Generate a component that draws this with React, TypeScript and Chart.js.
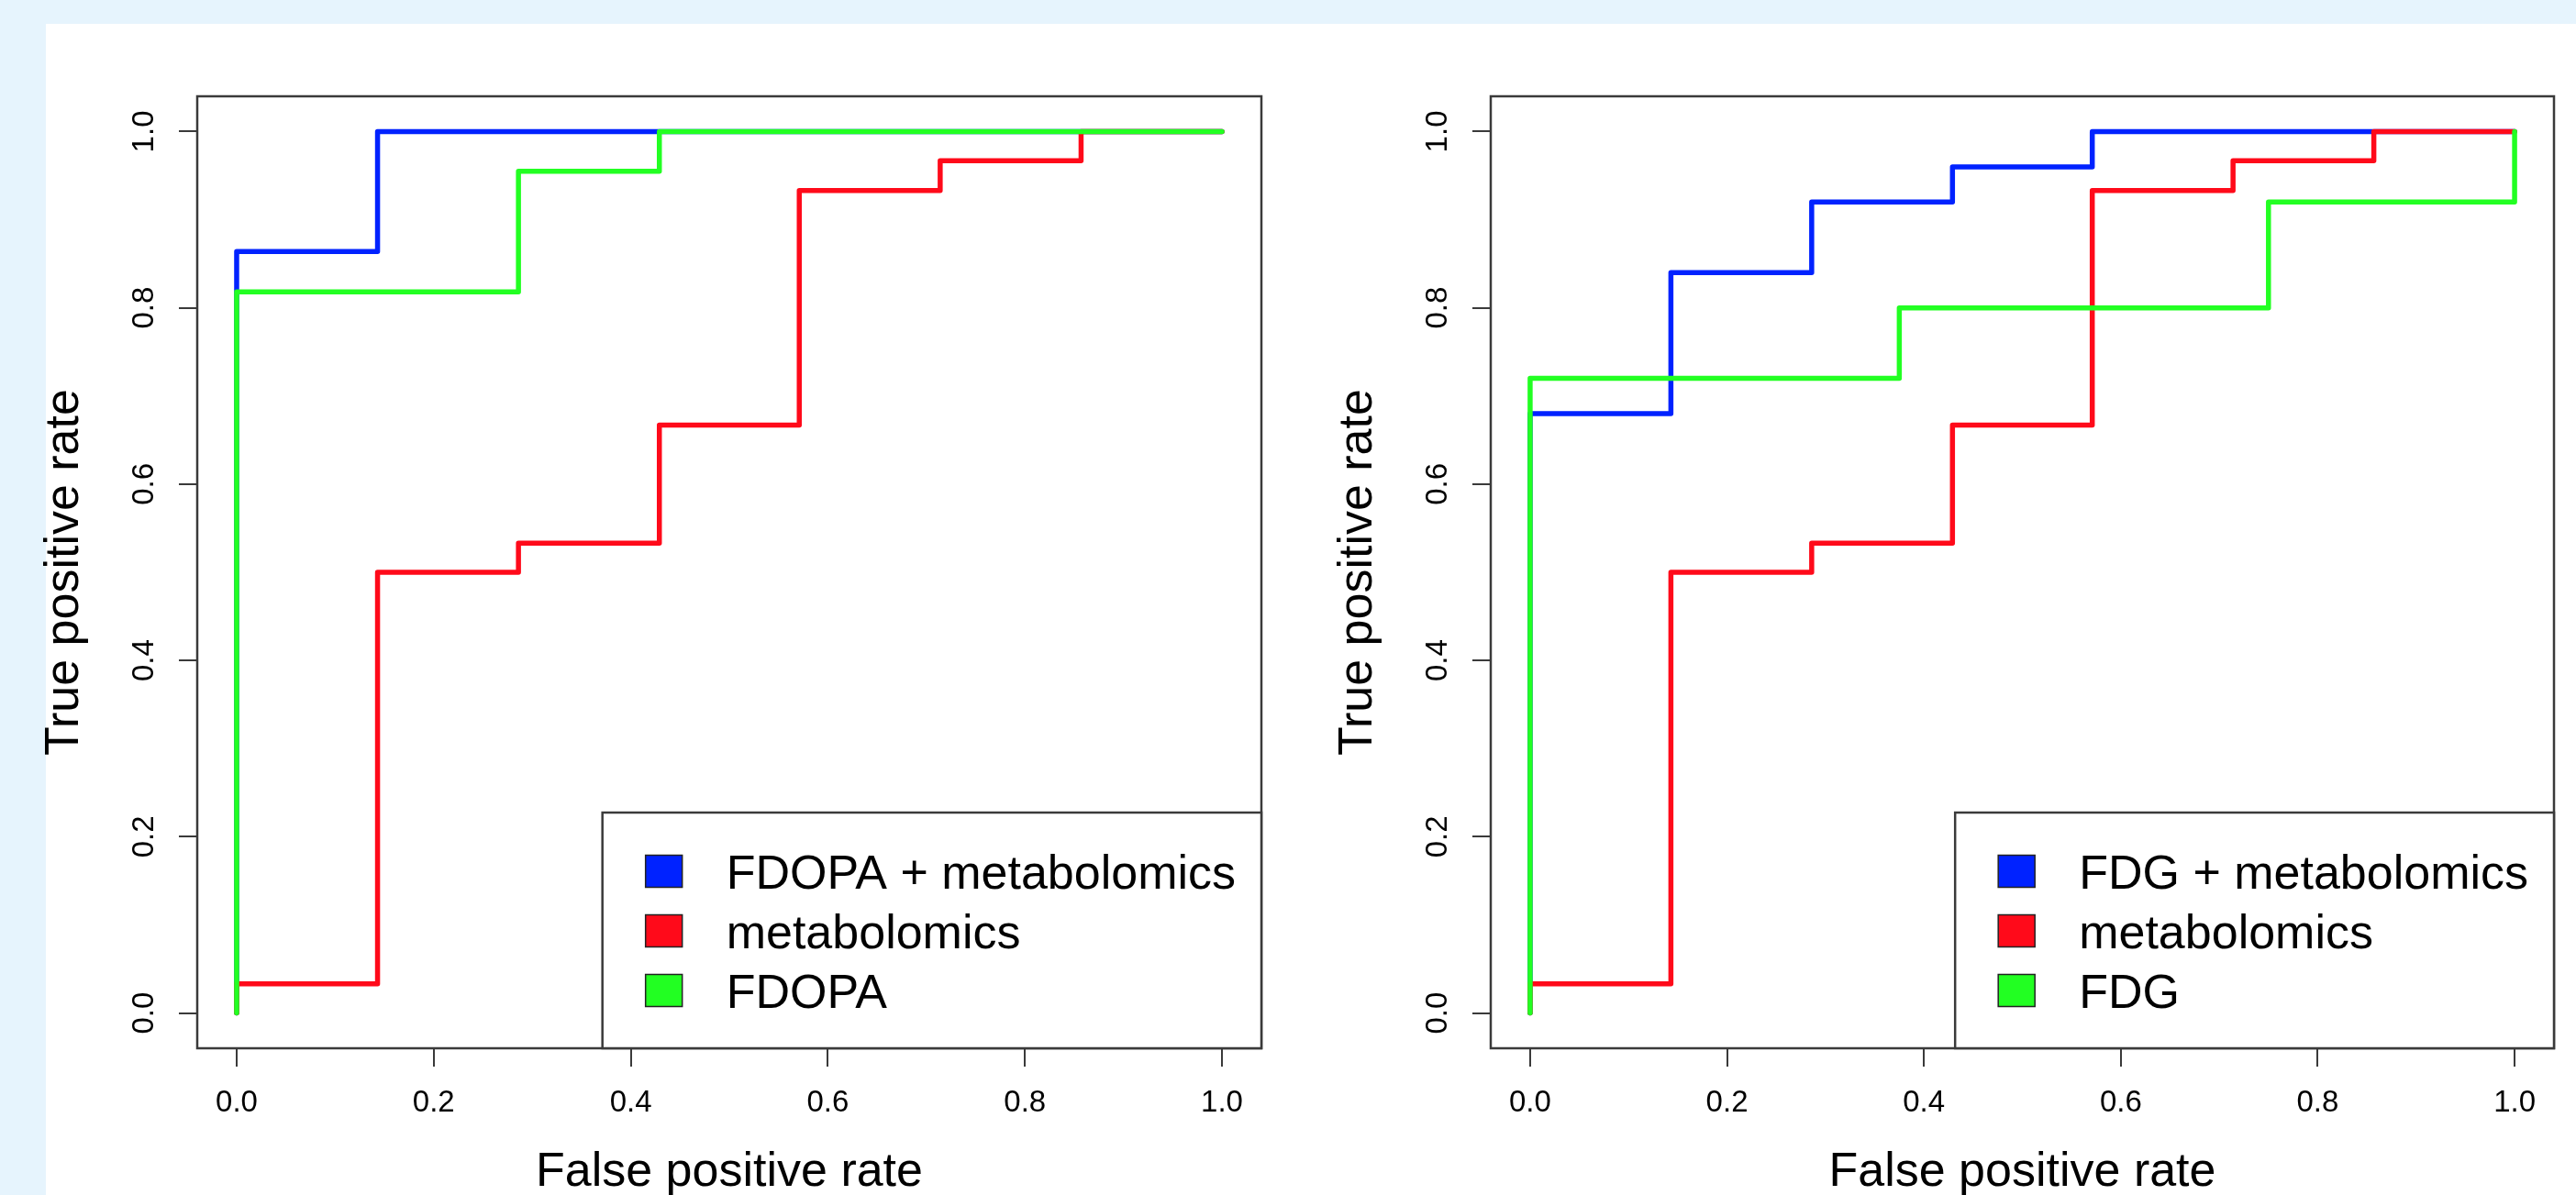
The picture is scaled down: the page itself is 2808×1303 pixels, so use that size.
import React, { useEffect, useRef } from 'react';
import { Chart, registerables } from 'chart.js';

Chart.register(...registerables);

// ---------- data ----------
const tickValues = [0, 0.2, 0.4, 0.6, 0.8, 1.0];

// left panel: FDOPA
const fdopaCombinedLabel = 'FDOPA + metabolomics';
const fdopaCombinedFpr = [0, 0, 0.143, 0.143, 1];
const fdopaCombinedTpr = [0, 0.864, 0.864, 1, 1];

const metabolomicsLabel = 'metabolomics';
const metabolomicsFpr = [0, 0, 0.143, 0.143, 0.286, 0.286, 0.429, 0.429, 0.571, 0.571, 0.714, 0.714, 0.857, 0.857, 1];
const metabolomicsTpr = [0, 0.033, 0.033, 0.5, 0.5, 0.533, 0.533, 0.667, 0.667, 0.933, 0.933, 0.967, 0.967, 1, 1];

const fdopaLabel = 'FDOPA';
const fdopaFpr = [0, 0, 0.286, 0.286, 0.429, 0.429, 1];
const fdopaTpr = [0, 0.818, 0.818, 0.955, 0.955, 1, 1];

// right panel: FDG
const fdgCombinedLabel = 'FDG + metabolomics';
const fdgCombinedFpr = [0, 0, 0.143, 0.143, 0.286, 0.286, 0.429, 0.429, 0.571, 0.571, 1];
const fdgCombinedTpr = [0, 0.68, 0.68, 0.84, 0.84, 0.92, 0.92, 0.96, 0.96, 1, 1];

const fdgLabel = 'FDG';
const fdgFpr = [0, 0, 0.375, 0.375, 0.75, 0.75, 1, 1];
const fdgTpr = [0, 0.72, 0.72, 0.8, 0.8, 0.92, 0.92, 1];

const xTitle = 'False positive rate';
const yTitle = 'True positive rate';

// ---------- styles ----------
const FONT = "'Liberation Sans', Arial, Helvetica, sans-serif";
const BLUE = '#0022ff';
const RED = '#ff0a1a';
const GREEN = '#22ff22';
const AXIS = '#3a3a3a';
const PAGE_BG = '#e6f4fd';

const toPoints = (xs: number[], ys: number[]) => xs.map((x, i) => ({ x, y: ys[i] }));

const boxAndLegend = {
  id: 'boxAndLegend',
  afterDraw(chart: any) {
    const { ctx, chartArea } = chart;
    const { left, top, right, bottom } = chartArea;
    ctx.save();
    // plot box
    ctx.strokeStyle = AXIS;
    ctx.lineWidth = 2.5;
    ctx.strokeRect(left, top, right - left, bottom - top);

    // legend (bottom right)
    const ds = chart.data.datasets;
    ctx.font = `52px ${FONT}`;
    const maxW = Math.max(...ds.map((d: any) => ctx.measureText(d.label).width));
    const w = 135 + maxW + 28;
    const h = 257;
    const x0 = right - w;
    const y0 = bottom - h;
    ctx.fillStyle = '#ffffff';
    ctx.fillRect(x0, y0, w, h);
    ctx.strokeStyle = AXIS;
    ctx.lineWidth = 2.5;
    ctx.strokeRect(x0, y0, w, h);
    ds.forEach((d: any, i: number) => {
      const cy = y0 + 64 + i * 65;
      ctx.fillStyle = d.borderColor;
      ctx.fillRect(x0 + 47, cy - 17.5, 40, 35);
      ctx.strokeStyle = '#222';
      ctx.lineWidth = 1.5;
      ctx.strokeRect(x0 + 47, cy - 17.5, 40, 35);
      ctx.fillStyle = '#000';
      ctx.textBaseline = 'alphabetic';
      ctx.textAlign = 'left';
      ctx.fillText(d.label, x0 + 135, cy + 19);
    });
    ctx.restore();
  },
};

function makeConfig(datasets: any[], padRight: number, canvasH: number) {
  const axisCommon = (title: string) => ({
    type: 'linear',
    min: -0.04,
    max: 1.04,
    afterBuildTicks: (s: any) => {
      s.ticks = tickValues.map((v) => ({ value: v }));
    },
    grid: { drawOnChartArea: false, drawTicks: true, tickLength: 20, color: AXIS, lineWidth: 2 },
    border: { display: false },
    title: {
      display: true,
      text: title,
      color: '#000',
      font: { family: FONT, size: 52, lineHeight: 1 },
      padding: { top: 0, bottom: 0 },
    },
  });
  return {
    type: 'line',
    data: { datasets },
    options: {
      animation: false,
      responsive: false,
      devicePixelRatio: 1,
      layout: { padding: { left: 0, top: 79, right: padRight, bottom: 0 } },
      plugins: { legend: { display: false }, tooltip: { enabled: false } },
      events: [],
      scales: {
        x: {
          ...axisCommon(xTitle),
          position: 'bottom',
          afterFit: (s: any) => {
            s.height = canvasH - 1117;
          },
          ticks: {
            autoSkip: false,
            maxRotation: 0,
            minRotation: 0,
            padding: 20,
            color: '#000',
            font: { family: FONT, size: 33 },
            callback: (v: any) => Number(v).toFixed(1),
          },
        },
        y: {
          ...axisCommon(yTitle),
          position: 'left',
          afterFit: (s: any) => {
            s.width = 170;
          },
          ticks: {
            autoSkip: false,
            minRotation: 90,
            maxRotation: 90,
            padding: 14,
            crossAlign: 'center',
            color: '#000',
            font: { family: FONT, size: 33 },
            callback: (v: any) => Number(v).toFixed(1),
          },
        },
      },
    },
    plugins: [boxAndLegend],
  };
}

const line = (label: string, xs: number[], ys: number[], color: string, order: number) => ({
  label,
  data: toPoints(xs, ys),
  borderColor: color,
  backgroundColor: color,
  borderWidth: 5.5,
  pointRadius: 0,
  tension: 0,
  fill: false,
  order,
  borderCapStyle: 'round',
  borderJoinStyle: 'round',
});

function ChartCanvas({ left, width, height, buildConfig }: any) {
  const ref = useRef<HTMLCanvasElement | null>(null);
  useEffect(() => {
    if (!ref.current) return;
    const chart = new Chart(ref.current, buildConfig());
    return () => chart.destroy();
  }, []);
  return (
    <div style={{ position: 'absolute', left, top: 26, width, height }}>
      <canvas ref={ref} width={width} height={height} style={{ width, height, display: 'block' }} />
    </div>
  );
}

export default function App() {
  const H = 1279;
  const leftConfig = () =>
    makeConfig(
      [
        line(fdopaCombinedLabel, fdopaCombinedFpr, fdopaCombinedTpr, BLUE, 2),
        line(metabolomicsLabel, metabolomicsFpr, metabolomicsTpr, RED, 1),
        line(fdopaLabel, fdopaFpr, fdopaTpr, GREEN, 0),
      ],
      29,
      H
    );
  const rightConfig = () =>
    makeConfig(
      [
        line(fdgCombinedLabel, fdgCombinedFpr, fdgCombinedTpr, BLUE, 2),
        line(metabolomicsLabel, metabolomicsFpr, metabolomicsTpr, RED, 1),
        line(fdgLabel, fdgFpr, fdgTpr, GREEN, 0),
      ],
      24,
      H
    );
  return (
    <div
      style={{
        position: 'absolute',
        left: 0,
        top: 0,
        width: 2808,
        height: 1303,
        background: PAGE_BG,
        overflow: 'hidden',
      }}
    >
      <div style={{ position: 'absolute', left: 50, top: 26, right: 0, bottom: 0, background: '#ffffff' }} />
      <ChartCanvas left={45} width={1359} height={H} buildConfig={leftConfig} />
      <ChartCanvas left={1455} width={1353} height={H} buildConfig={rightConfig} />
    </div>
  );
}
